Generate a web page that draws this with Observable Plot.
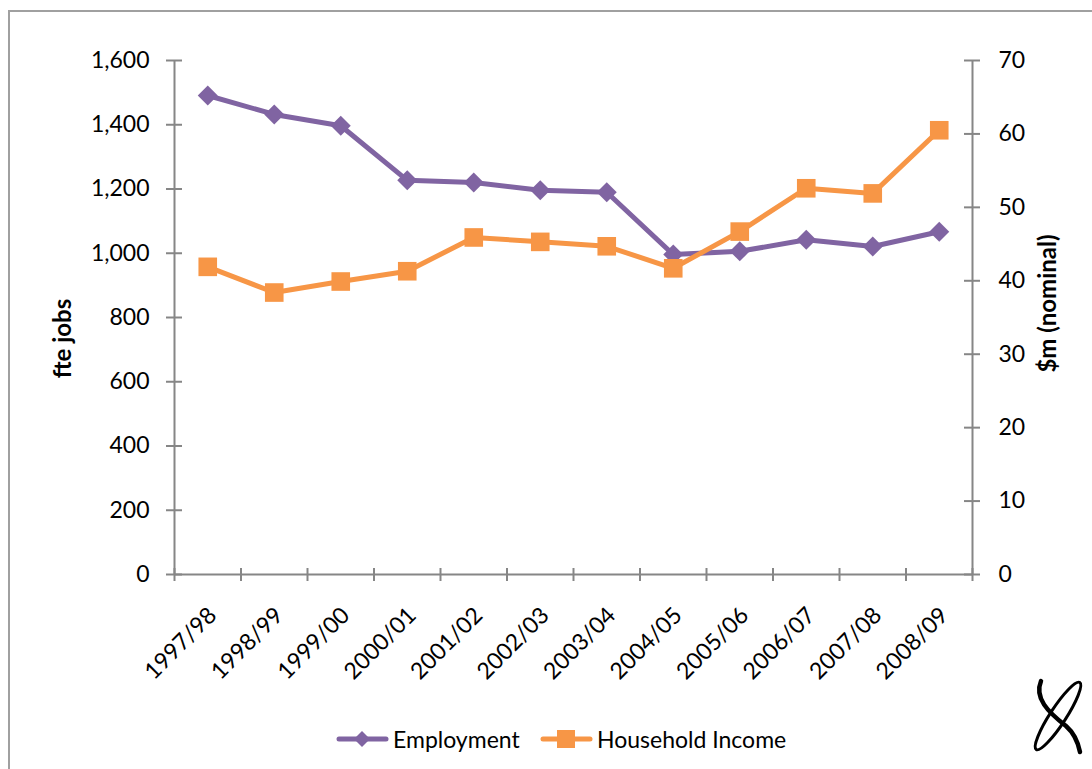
<!DOCTYPE html>
<html>
<head>
<meta charset="utf-8">
<script src="https://cdn.jsdelivr.net/npm/d3@7"></script>
<script src="https://cdn.jsdelivr.net/npm/@observablehq/plot@0.6"></script>
<style>
  html, body { margin: 0; padding: 0; background: #fff; overflow: hidden; width: 1092px; height: 769px; }
  body { position: relative; font-family: Lato, "Open Sans", sans-serif; }
  #frame { position: absolute; left: 8px; top: 10px; width: 1200px; height: 900px; border: 2px solid #a0a0a0; box-sizing: border-box; }
  #chart { position: absolute; left: 0; top: 0; }
  #legend { position: absolute; top: 725px; left: 0; width: 1092px; font-size: 23px; color: #000; }
  .item { position: absolute; display: flex; align-items: center; }
  .item svg { margin-right: 4px; }
  #logo { position: absolute; left: 1028px; top: 670px; }
</style>
</head>
<body>
<div id="frame"></div>
<div id="chart"></div>
<div id="legend"></div>
<svg id="logo" width="64" height="90" viewBox="1028 670 64 90">
  <path d="M1041,681 C1034,698 1048,712 1066,726 C1074,733 1078,742 1080,752" fill="none" stroke="#000" stroke-width="4.5" stroke-linecap="round"/>
  <ellipse cx="1058" cy="716" rx="8" ry="40" transform="rotate(33 1058 716)" fill="none" stroke="#000" stroke-width="3"/>
</svg>
<script>
const categories = ["1997/98","1998/99","1999/00","2000/01","2001/02","2002/03","2003/04","2004/05","2005/06","2006/07","2007/08","2008/09"];
const employment = [1491, 1432, 1397, 1227, 1220, 1196, 1190, 996, 1006, 1042, 1021, 1067];
const householdIncome = [41.9, 38.4, 39.9, 41.3, 45.9, 45.3, 44.7, 41.7, 46.7, 52.6, 51.9, 60.5];
const leftTicks = [0, 200, 400, 600, 800, 1000, 1200, 1400, 1600];
const rightTicks = [0, 10, 20, 30, 40, 50, 60, 70];

const purple = "#8064A2";
const orange = "#F79646";
const axisColor = "#868686";
const k = 1600 / 70; // right-axis values mapped onto the left scale

const emp = categories.map((c, i) => ({i: i + 0.5, v: employment[i]}));
const inc = categories.map((c, i) => ({i: i + 0.5, v: householdIncome[i] * k}));
const rightPos = rightTicks.map(v => v * k);

const chart = Plot.plot({
  width: 1092,
  height: 700,
  marginLeft: 174,
  marginRight: 120,
  marginTop: 60,
  marginBottom: 126,
  x: {domain: [0, 12], axis: null},
  y: {domain: [0, 1600], axis: null},
  style: {fontFamily: "Lato, 'Open Sans', sans-serif", fontSize: "23px", color: "#000", background: "transparent"},
  marks: [
    Plot.ruleX([0, 12], {stroke: axisColor, strokeWidth: 2}),
    Plot.ruleY([0], {stroke: axisColor, strokeWidth: 2}),
    Plot.ruleX(d3.range(13), {y1: d => 0, y2: d => 0, insetTop: -6, insetBottom: -7, stroke: axisColor, strokeWidth: 2}),
    Plot.ruleY(leftTicks, {x1: d => 0, x2: d => 0, insetLeft: -8, insetRight: -8, stroke: axisColor, strokeWidth: 2}),
    Plot.ruleY(rightPos, {x1: d => 12, x2: d => 12, insetLeft: -8, insetRight: -8, stroke: axisColor, strokeWidth: 2}),
    Plot.axisY(leftTicks, {anchor: "left", tickSize: 0, tickPadding: 25, tickFormat: d3.format(","), label: null, fontSize: 23, fill: "#000"}),
    Plot.axisY(rightPos, {anchor: "right", tickSize: 0, tickPadding: 26, tickFormat: d => String(Math.round(d / k)), label: null, fontSize: 23, fill: "#000"}),
    Plot.text(categories, {x: (d, i) => i + 0.5, y: d => 0, text: d => d, rotate: -45, textAnchor: "end", lineAnchor: "middle", dx: 5, dy: 37, fontSize: 23, fill: "#000"}),
    Plot.text(["fte jobs"], {frameAnchor: "left", textAnchor: "middle", lineAnchor: "middle", dx: -111, dy: 21, rotate: -90, fontWeight: "bold", fontSize: 24, fill: "#000"}),
    Plot.text(["$m (nominal)"], {frameAnchor: "right", textAnchor: "middle", lineAnchor: "middle", dx: 76, dy: -14, rotate: -90, fontWeight: "bold", fontSize: 24, fill: "#000"}),
    Plot.line(emp, {x: "i", y: "v", stroke: purple, strokeWidth: 5}),
    Plot.dot(emp, {x: "i", y: "v", symbol: "diamond2", r: 9, fill: purple, stroke: null}),
    Plot.line(inc, {x: "i", y: "v", stroke: orange, strokeWidth: 5}),
    Plot.dot(inc, {x: "i", y: "v", symbol: "square", r: 10.5, fill: orange, stroke: null})
  ]
});
document.getElementById("chart").appendChild(chart);

// Legend
const legendItems = [
  {label: "Employment", color: purple, symbol: "diamond", left: 336},
  {label: "Household Income", color: orange, symbol: "square", left: 540}
];
const legend = document.getElementById("legend");
for (const it of legendItems) {
  const div = document.createElement("div");
  div.className = "item";
  div.style.left = it.left + "px";
  const marker = it.symbol === "diamond"
    ? `<path d="M26,2 L34,10 L26,18 L18,10 Z" fill="${it.color}"/>`
    : `<rect x="17" y="1" width="18" height="18" fill="${it.color}"/>`;
  div.innerHTML = `<svg width="53" height="20"><line x1="3" y1="10" x2="50" y2="10" stroke="${it.color}" stroke-width="5" stroke-linecap="round"/>${marker}</svg><span>${it.label}</span>`;
  legend.appendChild(div);
}
</script>
</body>
</html>
